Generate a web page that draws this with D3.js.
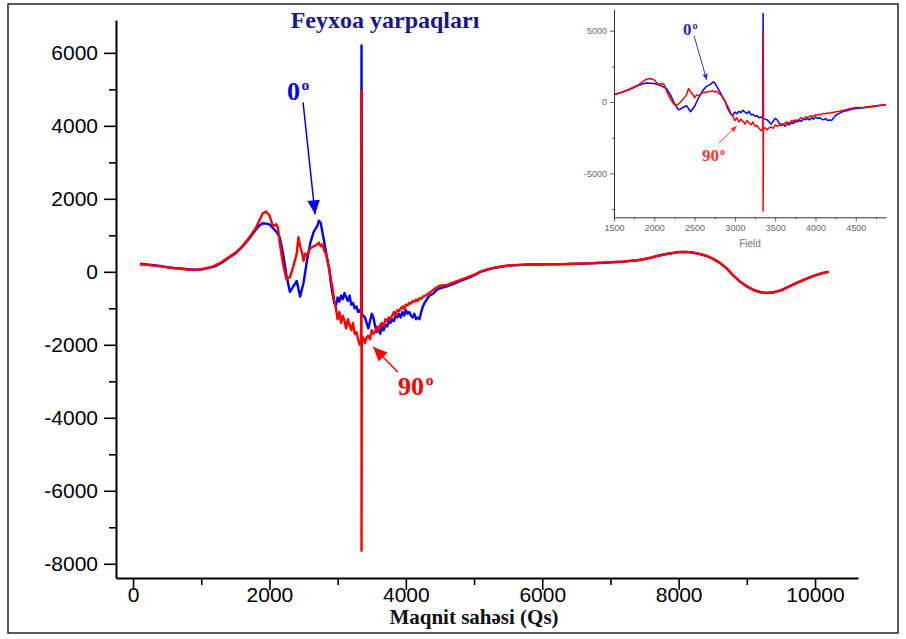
<!DOCTYPE html>
<html><head><meta charset="utf-8">
<script src="https://cdn.jsdelivr.net/npm/d3@7"></script>
<style>body{margin:0;background:#fff}</style>
</head><body>
<svg id="c" width="906" height="639"></svg>
<script>
// ---------- data ----------
const fieldBlue = [100,200,300,400,500,600,700,800,900,1000,1100,1200,1300,1400,1500,1600,1700,1800,1850,1900,1950,2000,2050,2100,2150,2200,2250,2300,2350,2400,2450,2500,2550,2600,2650,2700,2725,2750,2775,2800,2825,2850,2875,2900,2925,2950,2975,3000,3025,3050,3075,3100,3125,3150,3175,3200,3225,3250,3275,3300,3325,3345,3350,3355,3375,3400,3425,3450,3475,3500,3525,3550,3575,3600,3625,3650,3675,3700,3725,3750,3775,3800,3825,3850,3875,3900,3925,3950,3975,4000,4025,4050,4075,4100,4125,4150,4175,4200,4225,4250,4275,4300,4325,4350,4400,4450,4500,4600,4700,4800,4900,5000,5100,5200,5300,5400,5500,5600,5700,5800,5900,6000,6100,6200,6300,6400,6500,6600,6700,6800,6900,7000,7100,7200,7300,7400,7500,7600,7700,7800,7900,8000,8100,8200,8300,8400,8500,8600,8700,8800,8900,9000,9100,9200,9300,9400,9500,9600,9700,9800,9900,10000,10100,10200];
const blue0 = [220,200,180,160,130,105,90,70,60,60,100,150,250,380,500,680,900,1150,1260,1330,1320,1300,1200,1100,950,500,-100,-550,-400,-250,-680,-300,300,800,1100,1250,1400,1350,1100,850,600,300,100,-300,-600,-850,-920,-700,-820,-650,-750,-580,-700,-800,-650,-900,-850,-1000,-950,-1100,-1050,-1150,6200,-1150,-1200,-1250,-1400,-1550,-1350,-1150,-1250,-1500,-1650,-1550,-1700,-1500,-1600,-1450,-1500,-1350,-1400,-1300,-1350,-1200,-1250,-1150,-1250,-1100,-1200,-1050,-1150,-1100,-1200,-1250,-1150,-1300,-1250,-1300,-1100,-950,-850,-780,-700,-650,-600,-500,-450,-400,-330,-250,-180,-100,0,60,110,140,170,180,190,200,205,200,210,205,210,215,220,225,230,240,250,260,270,280,300,315,350,390,440,480,510,540,545,530,490,440,360,250,100,-100,-270,-400,-500,-560,-580,-560,-510,-420,-330,-250,-170,-100,-40,0];

const fieldRed = [100,200,300,400,500,600,700,800,900,1000,1100,1200,1300,1400,1500,1600,1700,1800,1850,1900,1950,2000,2050,2100,2125,2150,2200,2250,2300,2350,2400,2425,2450,2475,2500,2525,2550,2600,2650,2700,2725,2750,2775,2800,2825,2850,2875,2900,2925,2950,2975,3000,3025,3050,3075,3100,3125,3150,3175,3200,3225,3250,3275,3300,3325,3345,3350,3350,3355,3375,3400,3425,3450,3475,3500,3525,3550,3575,3600,3625,3650,3675,3700,3725,3750,3775,3800,3825,3850,3875,3900,3925,3950,3975,4000,4025,4050,4075,4100,4125,4150,4175,4200,4225,4250,4275,4300,4325,4350,4400,4450,4500,4600,4700,4800,4900,5000,5100,5200,5300,5400,5500,5600,5700,5800,5900,6000,6100,6200,6300,6400,6500,6600,6700,6800,6900,7000,7100,7200,7300,7400,7500,7600,7700,7800,7900,8000,8100,8200,8300,8400,8500,8600,8700,8800,8900,9000,9100,9200,9300,9400,9500,9600,9700,9800,9900,10000,10100,10200];
const red90 = [200,190,170,150,120,100,80,65,60,70,110,170,270,400,520,700,930,1200,1400,1600,1650,1550,1250,1300,1200,800,200,-200,-150,150,500,950,700,550,300,500,450,650,700,750,800,700,750,600,500,350,100,-200,-450,-800,-1000,-1300,-1100,-1400,-1200,-1350,-1550,-1300,-1450,-1600,-1400,-1700,-1650,-1850,-2000,-1850,4950,-7640,-1900,-1800,-1950,-1800,-1750,-1850,-1600,-1700,-1650,-1500,-1600,-1450,-1400,-1500,-1300,-1350,-1250,-1300,-1200,-1100,-1200,-1050,-1080,-1000,-950,-1020,-900,-920,-850,-870,-800,-820,-760,-800,-720,-740,-680,-660,-640,-600,-570,-500,-430,-380,-360,-290,-220,-150,-80,10,70,115,145,172,182,192,202,207,202,212,207,212,217,222,227,232,242,252,262,272,282,302,318,352,392,442,482,512,542,547,532,492,442,362,252,102,-98,-268,-398,-498,-558,-578,-558,-508,-418,-328,-248,-168,-98,-38,2];

const xTicksMain = [0,2000,4000,6000,8000,10000];
const xMinorMain = [1000,3000,5000,7000,9000];
const yTicksMain = [-8000,-6000,-4000,-2000,0,2000,4000,6000];
const yMinorMain = [-7000,-5000,-3000,-1000,1000,3000,5000];
const xTicksInset = [1500,2000,2500,3000,3500,4000,4500];
const xMinorInset = [1750,2250,2750,3250,3750,4250,4750];
const yTicksInset = [-5000,0,5000];
const yMinorInset = [-7500,-2500,2500];

const titleText = "Feyxoa yarpaqları";
const xTitle = "Maqnit sahəsi (Qs)";
const insetXTitle = "Field";

// ---------- drawing ----------
const svg = d3.select("#c");
const BLUE = "#0000ff", RED = "#ff0000";
const fmt = d => String(d);

svg.append("rect").attr("x",8).attr("y",4).attr("width",890).attr("height",629)
  .attr("fill","none").attr("stroke","#222").attr("stroke-width",1.5);

const x = d3.scaleLinear().domain([-250,10630]).range([116,858]);
const y = d3.scaleLinear().domain([-8390,6900]).range([578,20]);

const seriesB = fieldBlue.map((f,i)=>[f,blue0[i]]);
const seriesR = fieldRed.map((f,i)=>[f,red90[i]]);

function styleAxis(g, sw){
  g.select(".domain").attr("stroke","#000").attr("stroke-width",sw);
  g.selectAll(".tick line").attr("stroke","#000").attr("stroke-width",sw*0.8);
}
const gy = svg.append("g").attr("transform","translate(116,0)")
  .call(d3.axisLeft(y).tickValues(yTicksMain).tickSize(12).tickPadding(6).tickSizeOuter(0).tickFormat(fmt));
styleAxis(gy,2);
gy.selectAll("text").attr("font-family","Liberation Sans, Arial, sans-serif").attr("font-size",21).attr("fill","#000");
const gym = svg.append("g").attr("transform","translate(116,0)")
  .call(d3.axisLeft(y).tickValues(yMinorMain).tickSize(7).tickFormat("").tickSizeOuter(0));
styleAxis(gym,2); gym.select(".domain").remove();

const gx = svg.append("g").attr("transform","translate(0,578)")
  .call(d3.axisBottom(x).tickValues(xTicksMain).tickSize(12).tickPadding(-3).tickSizeOuter(0).tickFormat(fmt));
styleAxis(gx,2);
gx.selectAll("text").attr("font-family","Liberation Sans, Arial, sans-serif").attr("font-size",21).attr("fill","#000");
const gxm = svg.append("g").attr("transform","translate(0,578)")
  .call(d3.axisBottom(x).tickValues(xMinorMain).tickSize(7).tickFormat("").tickSizeOuter(0));
styleAxis(gxm,2); gxm.select(".domain").remove();

// main lines
const lineM = d3.line().x(d=>x(d[0])).y(d=>y(d[1]));
svg.append("path").datum(seriesB).attr("d",lineM).attr("fill","none")
  .attr("stroke",BLUE).attr("stroke-width",2.4).attr("stroke-linejoin","round");
svg.append("path").datum(seriesR).attr("d",lineM).attr("fill","none")
  .attr("stroke",RED).attr("stroke-width",2.4).attr("stroke-linejoin","round");

// titles
svg.append("text").attr("x",385).attr("y",28).attr("text-anchor","middle")
  .attr("font-family","Liberation Serif, Times New Roman, serif").attr("font-weight","bold")
  .attr("font-size",24).attr("fill","#16168f").text(titleText);
svg.append("text").attr("x",474).attr("y",624).attr("text-anchor","middle")
  .attr("font-family","Liberation Serif, Times New Roman, serif").attr("font-weight","bold")
  .attr("font-size",21).attr("fill","#111").text(xTitle);

function arrow(sx,sy,tx,ty,color,sw,head){
  svg.append("line").attr("x1",sx).attr("y1",sy).attr("x2",tx).attr("y2",ty)
    .attr("stroke",color).attr("stroke-width",sw);
  const a = Math.atan2(ty-sy,tx-sx), L=head, W=head*0.45;
  const bx = tx-L*Math.cos(a), by = ty-L*Math.sin(a);
  const p = [[tx,ty],[bx+W*Math.sin(a),by-W*Math.cos(a)],[bx-W*Math.sin(a),by+W*Math.cos(a)]];
  svg.append("path").attr("d","M"+p.map(q=>q.join(",")).join("L")+"Z").attr("fill",color);
}
function degLabel(px,py,num,color,fs){
  const t = svg.append("text").attr("x",px).attr("y",py)
    .attr("font-family","Liberation Serif, Times New Roman, serif").attr("font-weight","bold")
    .attr("font-size",fs).attr("fill",color);
  t.append("tspan").text(num);
  t.append("tspan").attr("dy",-fs*0.38).attr("dx",fs*0.06).attr("font-size",fs*0.6).text("o");
}

arrow(x(2493),y(4644),x(2669),y(1575),BLUE,1.5,14);
degLabel(x(2258),y(4699),"0",BLUE,26);
arrow(x(3881),y(-2745),x(3523),y(-2060),RED,1.5,14);
degLabel(x(3886),y(-3384),"90",RED,26);

// ---------- inset ----------
const xi = d3.scaleLinear().domain([1500,4875]).range([614,886]);
const yi = d3.scaleLinear().domain([-8080,6500]).range([217.3,9.3]);
svg.append("clipPath").attr("id","clipIn").append("rect")
  .attr("x",614).attr("y",9.3).attr("width",272).attr("height",208);
const lineI = d3.line().x(d=>xi(d[0])).y(d=>yi(d[1]));
const gi = svg.append("g").attr("clip-path","url(#clipIn)");
gi.append("path").datum(seriesB).attr("d",lineI).attr("fill","none")
  .attr("stroke",BLUE).attr("stroke-width",1.5).attr("stroke-linejoin","round");
gi.append("path").datum(seriesR).attr("d",lineI).attr("fill","none")
  .attr("stroke",RED).attr("stroke-width",1.5).attr("stroke-linejoin","round");

function styleIn(g){
  g.select(".domain").attr("stroke","#333").attr("stroke-width",1);
  g.selectAll(".tick line").attr("stroke","#333").attr("stroke-width",0.8);
  g.selectAll("text").attr("font-family","Liberation Sans, Arial, sans-serif").attr("font-size",9).attr("fill","#666");
}
const giy = svg.append("g").attr("transform","translate(614,0)")
  .call(d3.axisLeft(yi).tickValues(yTicksInset).tickSize(4).tickPadding(3).tickSizeOuter(0).tickFormat(fmt));
styleIn(giy);
const giym = svg.append("g").attr("transform","translate(614,0)")
  .call(d3.axisLeft(yi).tickValues(yMinorInset).tickSize(2).tickFormat("").tickSizeOuter(0));
styleIn(giym); giym.select(".domain").remove();
const gix = svg.append("g").attr("transform","translate(0,217.3)")
  .call(d3.axisBottom(xi).tickValues(xTicksInset).tickSize(4).tickPadding(3).tickSizeOuter(0).tickFormat(fmt));
styleIn(gix);
const gixm = svg.append("g").attr("transform","translate(0,217.3)")
  .call(d3.axisBottom(xi).tickValues(xMinorInset).tickSize(2).tickFormat("").tickSizeOuter(0));
styleIn(gixm); gixm.select(".domain").remove();
svg.append("text").attr("x",750).attr("y",247).attr("text-anchor","middle")
  .attr("font-family","Liberation Sans, Arial, sans-serif").attr("font-size",10).attr("fill","#777").text(insetXTitle);

arrow(xi(2493),yi(4660),xi(2651),yi(1540),"#3333cc",1,6);
degLabel(xi(2356),yi(4695),"0","#2b2bb0",17);
arrow(xi(2803),yi(-2873),xi(3022),yi(-1682),"#ff3333",1,6);
degLabel(xi(2592),yi(-4134),"90","#ff3333",17);
</script>
</body></html>
